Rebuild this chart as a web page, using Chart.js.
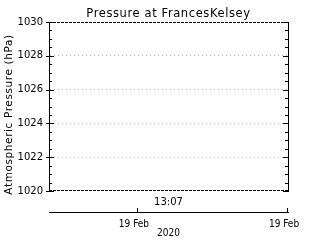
<!DOCTYPE html>
<html><head><meta charset="utf-8">
<script src="https://cdn.jsdelivr.net/npm/chart.js@4"></script>
<style>html,body{margin:0;padding:0;background:#fff}#c{display:block}</style>
</head><body>
<canvas id="c" width="320" height="240"></canvas>
<script>
const chartTitle = 'Pressure at FrancesKelsey';
const yAxisTitle = 'Atmospheric Pressure (hPa)';
const yMin = 1020, yMax = 1030, yMajorStep = 2, yMinorStep = 0.5;
// hours relative to 19 Feb 2020 00:00
const xMin = -8.93, xMax = 15.07;
const xTickValues = [0, 15.07];
const xTickLabels = ['19 Feb', '19 Feb'];
const timeLabel = '13:07';
const yearLabel = '2020';
const pressureTimes = [];
const pressureValues = [];

Chart.defaults.font.family = 'DejaVu Sans';
Chart.defaults.font.size = 10;
Chart.defaults.color = '#000';

const smallFont = '"Liberation Sans Narrow", "DejaVu Sans Condensed", "DejaVu Sans"';

const deco = {
  id: 'deco',
  afterDraw(chart) {
    const ctx = chart.ctx, a = chart.chartArea;
    const ys = chart.scales.y, x2 = chart.scales.x2;
    ctx.save();
    ctx.strokeStyle = '#000';
    ctx.lineWidth = 1;
    // dashed top and bottom frame
    ctx.setLineDash([3, 1]);
    ctx.beginPath();
    ctx.moveTo(a.left, Math.round(a.top) + 0.5); ctx.lineTo(a.right, Math.round(a.top) + 0.5);
    ctx.moveTo(a.left, Math.round(a.bottom) - 0.5); ctx.lineTo(a.right, Math.round(a.bottom) - 0.5);
    ctx.stroke();
    ctx.setLineDash([]);
    // y ticks (inward), majors also slightly outward on the left
    ctx.beginPath();
    ys.ticks.forEach(t => {
      const y = Math.round(ys.getPixelForValue(t.value)) + 0.5;
      const major = Math.abs(t.value % yMajorStep) < 1e-6;
      const len = major ? 5 : 3;
      ctx.moveTo(a.left - (major ? 3 : 0), y); ctx.lineTo(a.left + len, y);
      ctx.moveTo(a.right - len, y); ctx.lineTo(a.right, y);
    });
    ctx.stroke();
    // x2 ticks upward
    ctx.beginPath();
    x2.ticks.forEach(t => {
      const x = Math.round(x2.getPixelForValue(t.value)) - 0.5;
      ctx.moveTo(x, x2.top); ctx.lineTo(x, x2.top - 4);
    });
    ctx.stroke();
    ctx.fillStyle = '#000';
    // chart title, centred over the plot area
    ctx.font = '11.5px "DejaVu Sans"';
    ctx.letterSpacing = '0.6px';
    ctx.textAlign = 'center';
    ctx.textBaseline = 'alphabetic';
    ctx.fillText(chartTitle, (a.left + a.right) / 2, 17);
    // y axis title
    ctx.font = '10.5px "DejaVu Sans"';
    ctx.letterSpacing = '0.6px';
    ctx.translate(ys.left + 11.5, (a.top + a.bottom) / 2 + 8);
    ctx.rotate(-Math.PI / 2);
    ctx.fillText(yAxisTitle, 0, 0);
    ctx.restore();
  }
};

new Chart(document.getElementById('c'), {
  type: 'scatter',
  data: {
    datasets: [{
      data: pressureTimes.map((t, i) => ({x: t, y: pressureValues[i]})),
      borderColor: '#000', backgroundColor: '#000', showLine: true, pointRadius: 0
    }]
  },
  options: {
    responsive: false,
    animation: false,
    layout: {padding: {top: 22, left: 0, right: 0, bottom: 0}},
    plugins: {
      legend: {display: false},
      tooltip: {enabled: false},
      title: {display: false}
    },
    scales: {
      x: {
        type: 'linear', position: 'bottom', min: xMin, max: xMax,
        grid: {display: false}, border: {display: false},
        ticks: {display: false},
        title: {display: true, text: timeLabel, font: {size: 10}, padding: {top: 0, bottom: 4}},
        afterFit: s => { s.height = 21; }
      },
      x2: {
        type: 'linear', position: 'bottom', min: xMin, max: xMax,
        afterBuildTicks: s => { s.ticks = xTickValues.map(v => ({value: v})); },
        ticks: {autoSkip: false, maxRotation: 0, padding: 6, labelOffset: -4,
          font: {size: 10, family: smallFont},
          callback: (v, i) => xTickLabels[i]},
        grid: {drawOnChartArea: false, drawTicks: false},
        border: {display: true, color: '#000', width: 1},
        title: {display: true, text: yearLabel,
          font: {size: 10, family: smallFont},
          padding: {top: 0, bottom: 1}},
        afterFit: s => { s.height = 28; }
      },
      y: {
        type: 'linear', position: 'left', min: yMin, max: yMax,
        ticks: {stepSize: yMinorStep, autoSkip: false, padding: 6, font: {size: 10},
          callback: v => (Math.abs(v % yMajorStep) < 1e-6 ? String(v) : '')},
        grid: {drawTicks: false, lineWidth: 1,
          color: c => {
            const v = c.tick ? c.tick.value : null;
            if (v === null) return 'rgba(0,0,0,0)';
            if (v === yMin || v === yMax) return 'rgba(0,0,0,0)';
            return Math.abs(v % yMajorStep) < 1e-6 ? '#bdbdbd' : 'rgba(0,0,0,0)';
          }},
        border: {display: true, color: '#000', width: 1, dash: [1, 3]},
        title: {display: false},
        afterFit: s => { s.width = 49; }
      },
      y2: {
        type: 'linear', position: 'right', min: yMin, max: yMax,
        ticks: {display: false},
        grid: {drawOnChartArea: false, drawTicks: false},
        border: {display: true, color: '#000', width: 1},
        afterFit: s => { s.width = 32; }
      }
    }
  },
  plugins: [deco]
});
</script>
</body></html>
